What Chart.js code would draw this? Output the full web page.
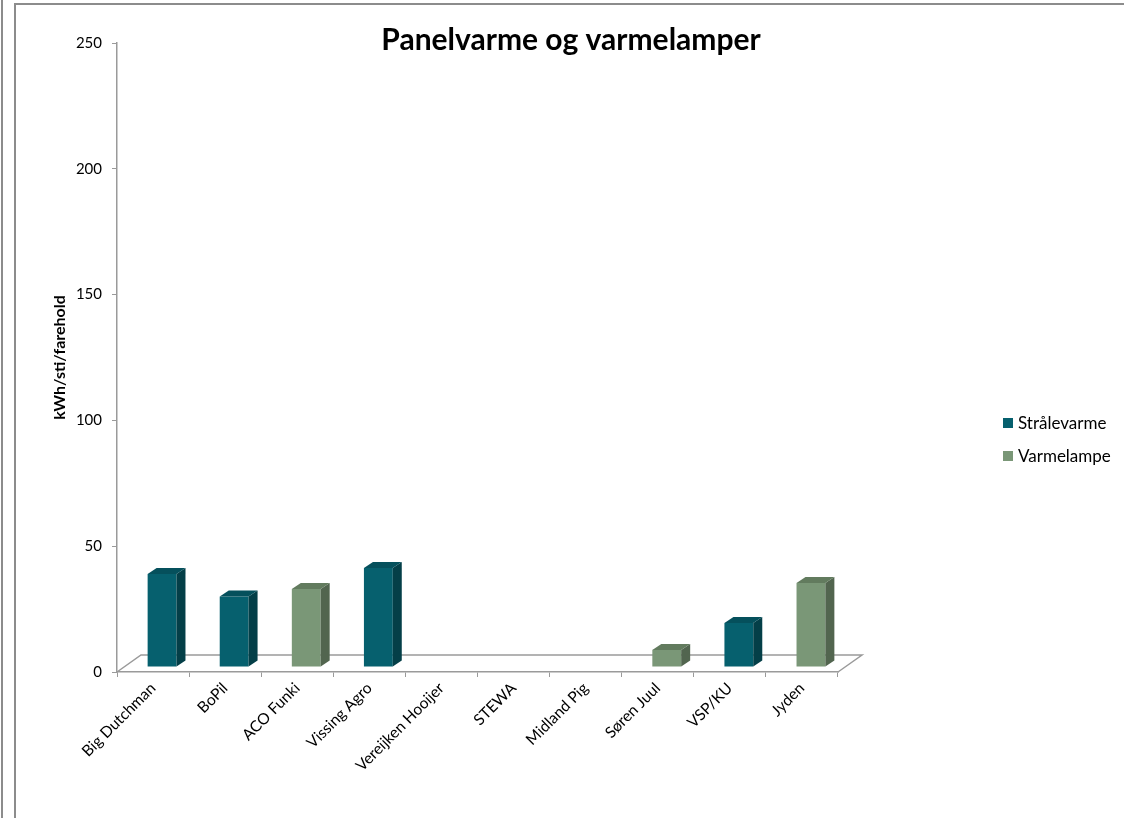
<!DOCTYPE html>
<html>
<head>
<meta charset="utf-8">
<script src="https://cdn.jsdelivr.net/npm/chart.js@4/dist/chart.umd.min.js"></script>
<style>
  html, body { margin: 0; padding: 0; background: #fff; }
  #wrap { width: 1124px; height: 818px; }
</style>
</head>
<body>
<div id="wrap"><canvas id="varmeChart" width="1124" height="818"></canvas></div>
<script>
const categories = ['Big Dutchman', 'BoPil', 'ACO Funki', 'Vissing Agro', 'Vereijken Hooijer', 'STEWA', 'Midland Pig', 'Søren Juul', 'VSP/KU', 'Jyden'];
const straalevarme = [37, 28, null, 39.3, null, null, null, null, 17.5, null];
const varmelampe = [null, null, 31, null, null, null, null, 6.8, null, 33.4];
const seriesNames = ['Strålevarme', 'Varmelampe'];
const yTicks = [0, 50, 100, 150, 200, 250];

const faceColors = ['#06606e', '#7a9777'];
const sideColors = ['#043f48', '#52654f'];
const topColors = ['#05505c', '#627b5e'];

const DEPTH = { x: 24, y: -17 };   // floor depth
const BAR_SHIFT = { x: 9, y: -5 }; // bars sit a bit into the floor
const BAR_DEPTH = { x: 9, y: -6 };
const LINE = '#9a9a9a';

// floor, frame, title, legend and the 3D faces of the bars
const excel3d = {
    id: 'excel3d',
    beforeDraw(chart) {
        const c = chart.ctx;
        c.save();
        c.fillStyle = '#fff';
        c.fillRect(0, 0, chart.width, chart.height);
        c.strokeStyle = '#8c8c8c';
        c.lineWidth = 2;
        c.beginPath();
        c.moveTo(2, 0); c.lineTo(2, chart.height);
        c.moveTo(15, chart.height); c.lineTo(15, 4); c.lineTo(chart.width, 4);
        c.stroke();
        c.restore();
    },
    beforeDatasetsDraw(chart) {
        const c = chart.ctx;
        const a = chart.chartArea;
        c.save();
        c.strokeStyle = LINE;
        c.lineWidth = 1.5;
        c.beginPath();
        c.moveTo(a.left, a.bottom); c.lineTo(a.left + DEPTH.x, a.bottom + DEPTH.y);
        c.lineTo(a.right + DEPTH.x, a.bottom + DEPTH.y); c.lineTo(a.right, a.bottom);
        c.stroke();
        c.restore();
        c.save();
        c.translate(BAR_SHIFT.x, BAR_SHIFT.y);
    },
    afterDatasetsDraw(chart) {
        const c = chart.ctx;
        chart.data.datasets.forEach((ds, i) => {
            chart.getDatasetMeta(i).data.forEach((bar, j) => {
                if (ds.data[j] == null) return;
                const p = bar.getProps(['x', 'y', 'base', 'width'], true);
                const l = p.x - p.width / 2, r = p.x + p.width / 2;
                c.fillStyle = sideColors[i];
                c.beginPath();
                c.moveTo(r, p.y); c.lineTo(r + BAR_DEPTH.x, p.y + BAR_DEPTH.y);
                c.lineTo(r + BAR_DEPTH.x, p.base + BAR_DEPTH.y); c.lineTo(r, p.base);
                c.closePath(); c.fill();
                c.fillStyle = topColors[i];
                c.beginPath();
                c.moveTo(l, p.y); c.lineTo(l + BAR_DEPTH.x, p.y + BAR_DEPTH.y);
                c.lineTo(r + BAR_DEPTH.x, p.y + BAR_DEPTH.y); c.lineTo(r, p.y);
                c.closePath(); c.fill();
            });
        });
        c.restore();
    },
    afterDraw(chart) {
        const c = chart.ctx;
        c.save();
        c.fillStyle = '#000';
        c.font = 'bold 30px Lato';
        c.textAlign = 'center';
        c.textBaseline = 'middle';
        c.fillText('Panelvarme og varmelamper', 571, 40);
        // legend
        c.font = '17px Lato';
        c.textAlign = 'left';
        chart.data.datasets.forEach((ds, i) => {
            const y = 423 + i * 33;
            c.fillStyle = faceColors[i];
            c.fillRect(1003, y - 5, 10, 10);
            c.fillStyle = '#000';
            c.fillText(ds.label, 1018, y + 1);
        });
        c.restore();
    }
};

Chart.defaults.font.family = 'Lato';
Chart.defaults.font.size = 15;
Chart.defaults.color = '#000';

const ctx = document.getElementById('varmeChart').getContext('2d');
new Chart(ctx, {
    type: 'bar',
    data: {
        labels: categories,
        datasets: [{
            label: seriesNames[0],
            data: straalevarme,
            backgroundColor: faceColors[0]
        }, {
            label: seriesNames[1],
            data: varmelampe,
            backgroundColor: faceColors[1]
        }]
    },
    options: {
        responsive: false,
        animation: false,
        grouped: false,
        barPercentage: 0.4,
        categoryPercentage: 1,
        layout: { padding: { left: 0, top: 43, right: 286, bottom: 0 } },
        scales: {
            x: {
                grid: { drawOnChartArea: false, color: LINE, tickLength: 5, offset: true },
                border: { color: LINE, width: 1.5 },
                ticks: { minRotation: 45, maxRotation: 45, padding: 2, font: { size: 15.5 } },
                afterFit(scale) { scale.height = 146; }
            },
            y: {
                min: 0,
                max: 250,
                afterBuildTicks(scale) { scale.ticks = yTicks.map(v => ({ value: v })); },
                grid: { drawOnChartArea: false, color: LINE, tickLength: 5 },
                border: { color: LINE, width: 1.5 },
                ticks: { padding: 10 },
                title: {
                    display: true,
                    text: 'kWh/sti/farehold',
                    font: { weight: 'bold', size: 16 },
                    padding: { top: 50, bottom: 0 }
                },
                afterFit(scale) { scale.width = 117; }
            }
        },
        plugins: {
            legend: { display: false },
            tooltip: { enabled: false }
        }
    },
    plugins: [excel3d]
});
</script>
</body>
</html>
